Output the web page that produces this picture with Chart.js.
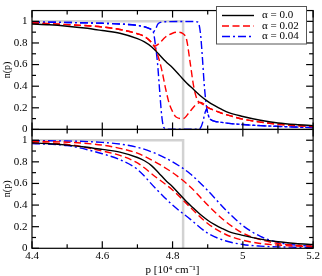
<!DOCTYPE html>
<html>
<head>
<meta charset="utf-8">
<script src="https://cdn.jsdelivr.net/npm/chart.js@4"></script>
<style>
  body { margin: 0; background: #fff; }
  #wrap { position: relative; width: 322px; height: 276px; }
</style>
</head>
<body>
<div id="wrap"><canvas id="myChart"></canvas></div>
<script>
// ticks
var xMajor = [4.4, 4.6, 4.8, 5, 5.2];
var xMinor = [4.5, 4.7, 4.9, 5.1];
var yMajor = [0, 0.2, 0.4, 0.6, 0.8, 1];
var yMinor = [0.1, 0.3, 0.5, 0.7, 0.9];

// alpha = 0.0 (same in both panels)
var pBlack = [4.40, 4.45, 4.50, 4.55, 4.60, 4.65, 4.70, 4.72, 4.74, 4.76, 4.78, 4.80, 4.82, 4.84, 4.86, 4.88, 4.90, 4.92, 4.94, 4.96, 5.00, 5.05, 5.10, 5.15, 5.20];
var nBlack = [0.976, 0.968, 0.955, 0.938, 0.915, 0.89, 0.84, 0.81, 0.765, 0.70, 0.63, 0.57, 0.50, 0.43, 0.37, 0.31, 0.26, 0.22, 0.185, 0.155, 0.12, 0.085, 0.06, 0.045, 0.035];

// top panel, alpha = 0.02 (two branches)
var pRedA = [4.40, 4.50, 4.60, 4.65, 4.70, 4.72, 4.74, 4.748, 4.76, 4.78, 4.80, 4.815, 4.83, 4.84, 4.85, 4.86, 4.87, 4.88, 4.90, 4.92, 4.94, 4.96, 5.00, 5.05, 5.10, 5.15, 5.20];
var nRedA = [0.985, 0.97, 0.948, 0.925, 0.885, 0.86, 0.805, 0.77, 0.79, 0.855, 0.89, 0.90, 0.885, 0.83, 0.62, 0.40, 0.275, 0.245, 0.205, 0.175, 0.15, 0.13, 0.095, 0.068, 0.048, 0.035, 0.027];
var pRedB = [4.40, 4.50, 4.60, 4.65, 4.70, 4.72, 4.74, 4.748, 4.76, 4.77, 4.78, 4.79, 4.80, 4.81, 4.83, 4.848, 4.865, 4.88, 4.90, 4.92, 4.94, 4.96, 5.00, 5.05, 5.10, 5.15, 5.20];
var nRedB = [0.985, 0.97, 0.948, 0.925, 0.885, 0.86, 0.805, 0.77, 0.665, 0.54, 0.38, 0.245, 0.165, 0.115, 0.10, 0.16, 0.225, 0.25, 0.205, 0.175, 0.15, 0.13, 0.095, 0.068, 0.048, 0.035, 0.027];

// top panel, alpha = 0.04 (two branches)
var pBlueA = [4.40, 4.50, 4.60, 4.65, 4.70, 4.72, 4.735, 4.745, 4.752, 4.758, 4.765, 4.78, 4.82, 4.86, 4.87, 4.875, 4.88, 4.885, 4.89, 4.895, 4.90, 4.905, 4.91, 4.92, 4.94, 4.96, 5.00, 5.05, 5.10, 5.15, 5.20];
var nBlueA = [0.992, 0.99, 0.982, 0.976, 0.962, 0.95, 0.932, 0.905, 0.93, 0.975, 0.99, 0.997, 0.998, 0.998, 0.995, 0.975, 0.87, 0.66, 0.42, 0.25, 0.15, 0.105, 0.088, 0.075, 0.065, 0.056, 0.045, 0.035, 0.028, 0.022, 0.018];
var pBlueB = [4.40, 4.50, 4.60, 4.65, 4.70, 4.72, 4.735, 4.745, 4.752, 4.757, 4.763, 4.769, 4.775, 4.785, 4.82, 4.86, 4.876, 4.882, 4.887, 4.892, 4.897, 4.90, 4.905, 4.91, 4.92, 4.94, 4.96, 5.00, 5.05, 5.10, 5.15, 5.20];
var nBlueB = [0.992, 0.99, 0.982, 0.976, 0.962, 0.95, 0.932, 0.905, 0.76, 0.62, 0.37, 0.13, 0.02, 0.003, 0.002, 0.002, 0.004, 0.03, 0.08, 0.15, 0.19, 0.15, 0.105, 0.088, 0.075, 0.065, 0.056, 0.045, 0.035, 0.028, 0.022, 0.018];

// bottom panel, shifted curves
var pBot = [4.40, 4.50, 4.60, 4.65, 4.70, 4.75, 4.80, 4.85, 4.90, 4.95, 5.00, 5.05, 5.10, 5.15, 5.20];
var nRedUp = [0.99, 0.982, 0.955, 0.925, 0.88, 0.80, 0.70, 0.57, 0.40, 0.25, 0.14, 0.08, 0.045, 0.028, 0.02];
var nRedLo = [0.978, 0.962, 0.90, 0.86, 0.79, 0.665, 0.54, 0.38, 0.23, 0.13, 0.075, 0.045, 0.03, 0.02, 0.015];
var nBlueUp = [0.995, 0.993, 0.98, 0.965, 0.935, 0.88, 0.80, 0.69, 0.535, 0.36, 0.21, 0.11, 0.055, 0.03, 0.02];
var nBlueLo = [0.97, 0.95, 0.875, 0.82, 0.73, 0.56, 0.40, 0.27, 0.14, 0.07, 0.035, 0.02, 0.013, 0.01, 0.008];

// step (T = 0)
var pStep = [4.4, 4.83, 4.83];
var nStep = [1, 1, 0];

var serif = "'Liberation Serif', 'Times New Roman', serif";
Chart.defaults.font.family = serif;
Chart.defaults.color = '#000';

function pts(ps, ns) {
    return ps.map(function (p, i) { return { x: p, y: ns[i] }; });
}

var RED_DASH = [7, 3.5];
var BLUE_DASH = [8, 3, 2, 3];

function curve(ps, ns, axis, color, dash, label, inLegend) {
    return {
        label: label || '',
        inLegend: !!inLegend,
        data: pts(ps, ns),
        yAxisID: axis,
        borderColor: color,
        borderWidth: 1.4,
        borderDash: dash || [],
        cubicInterpolationMode: 'monotone',
        pointRadius: 0,
        fill: false
    };
}

function step(axis) {
    return {
        label: '',
        data: pts(pStep, nStep),
        yAxisID: axis,
        borderColor: '#d2d2d2',
        borderWidth: 2.5,
        pointRadius: 0,
        order: 10
    };
}

var frame = {
    id: 'frame',
    afterDraw: function (chart) {
        var ctx = chart.ctx, xs = chart.scales.x;
        ctx.save();
        ctx.strokeStyle = '#000';
        ctx.lineWidth = 1.2;
        function seg(x1, y1, x2, y2) {
            ctx.beginPath(); ctx.moveTo(x1, y1); ctx.lineTo(x2, y2); ctx.stroke();
        }
        ['yTop', 'yBot'].forEach(function (id) {
            var ys = chart.scales[id];
            var l = xs.left, r = xs.right, t = ys.top, b = ys.bottom;
            ctx.strokeRect(l, t, r - l, b - t);
            xMajor.forEach(function (v) {
                var px = xs.getPixelForValue(v);
                seg(px, b, px, b - 7); seg(px, t, px, t + 7);
            });
            xMinor.forEach(function (v) {
                var px = xs.getPixelForValue(v);
                seg(px, b, px, b - 4); seg(px, t, px, t + 4);
            });
            yMajor.forEach(function (v) {
                var py = ys.getPixelForValue(v);
                seg(l, py, l + 7, py); seg(r, py, r - 7, py);
            });
            yMinor.forEach(function (v) {
                var py = ys.getPixelForValue(v);
                seg(l, py, l + 4, py); seg(r, py, r - 4, py);
            });
        });
        ctx.restore();

        // legend box in the top panel
        var items = chart.data.datasets.filter(function (d) { return d.inLegend; });
        var bx = 216, by = 6, bw = 90, bh = 37.5;
        ctx.save();
        ctx.fillStyle = '#fff';
        ctx.fillRect(bx, by, bw, bh);
        ctx.strokeStyle = '#555';
        ctx.lineWidth = 1;
        ctx.strokeRect(bx + 0.5, by + 0.5, bw, bh);
        ctx.font = '11px ' + serif;
        ctx.textBaseline = 'middle';
        ctx.fillStyle = '#000';
        items.forEach(function (d, i) {
            var y = by + 9.5 + i * 10.5;
            ctx.strokeStyle = d.borderColor;
            ctx.lineWidth = 1.4;
            ctx.setLineDash(d.borderDash);
            ctx.beginPath(); ctx.moveTo(222, y); ctx.lineTo(254, y); ctx.stroke();
            ctx.setLineDash([]);
            ctx.fillText(d.label, 262, y);
        });
        ctx.restore();
    }
};

function yAxis() {
    return {
        type: 'linear',
        position: 'left',
        stack: 'panels',
        stackWeight: 1,
        min: 0,
        max: 1.1,
        grid: { display: false, drawTicks: false, tickLength: 0 },
        border: { display: false },
        afterBuildTicks: function (s) { s.ticks = yMajor.map(function (v) { return { value: v }; }); },
        afterFit: function (s) { s.width = 32; },
        ticks: {
            autoSkip: false,
            padding: 4.5,
            font: { size: 11, lineHeight: 1.1 },
            callback: function (v) { return String(v); }
        },
        title: {
            display: true,
            text: 'n(p)',
            font: { size: 10, lineHeight: 1.2 },
            padding: { top: 1, bottom: 0 }
        }
    };
}

var ctx = document.getElementById('myChart').getContext('2d');
var myChart = new Chart(ctx, {
    type: 'line',
    data: {
        datasets: [
            curve(pBlack, nBlack, 'yTop', '#000000', [], 'α = 0.0', true),
            curve(pRedA, nRedA, 'yTop', '#ff0000', RED_DASH, 'α = 0.02', true),
            curve(pRedB, nRedB, 'yTop', '#ff0000', RED_DASH),
            curve(pBlueA, nBlueA, 'yTop', '#0000ff', BLUE_DASH, 'α = 0.04', true),
            curve(pBlueB, nBlueB, 'yTop', '#0000ff', BLUE_DASH),
            step('yTop'),
            curve(pBlack, nBlack, 'yBot', '#000000', []),
            curve(pBot, nRedUp, 'yBot', '#ff0000', RED_DASH),
            curve(pBot, nRedLo, 'yBot', '#ff0000', RED_DASH),
            curve(pBot, nBlueUp, 'yBot', '#0000ff', BLUE_DASH),
            curve(pBot, nBlueLo, 'yBot', '#0000ff', BLUE_DASH),
            step('yBot')
        ]
    },
    options: {
        responsive: true,
        maintainAspectRatio: false,
        animation: false,
        layout: { padding: { top: 1, right: 8, left: 0, bottom: 0 } },
        plugins: {
            legend: { display: false },
            tooltip: { enabled: false }
        },
        scales: {
            x: {
                type: 'linear',
                min: 4.4,
                max: 5.2,
                grid: { display: false, drawTicks: false, tickLength: 0 },
                border: { display: false },
                afterBuildTicks: function (s) { s.ticks = xMajor.map(function (v) { return { value: v }; }); },
                afterFit: function (s) { s.height = 27.7; },
                ticks: {
                    autoSkip: false,
                    maxRotation: 0,
                    padding: 2,
                    font: { size: 11, lineHeight: 1.1 },
                    callback: function (v) { return String(v); }
                },
                title: {
                    display: true,
                    text: 'p [10⁴ cm⁻¹]',
                    font: { size: 11, lineHeight: 1.1 },
                    padding: { top: 0, bottom: 0 }
                }
            },
            yBot: yAxis(),
            yTop: yAxis()
        }
    },
    plugins: [frame]
});
</script>
</body>
</html>
